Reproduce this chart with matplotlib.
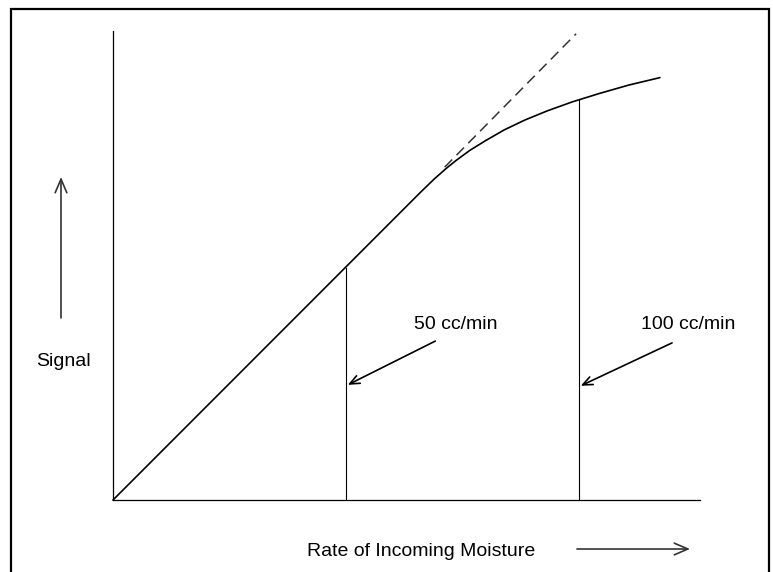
import matplotlib
matplotlib.use("Agg")
import matplotlib.pyplot as plt
from matplotlib.patches import Rectangle, FancyArrowPatch

plt.rcParams['font.family'] = ['Liberation Sans', 'DejaVu Sans']

# Data (x = rate in cc/min, y = signal in same relative units)
rate = [0, 62.0, 66.0, 69.0, 71.5, 73.6, 76.6, 80.0, 84.0, 88.4, 93.3, 98.6, 104.4, 110.7, 117.4]
signal = [0, 62.0, 66.0, 68.9, 71.1, 72.8, 75.0, 77.1, 79.4, 81.5, 83.5, 85.4, 87.2, 89.0, 90.6]
ideal_rate = [71.2, 99.4]
ideal_signal = [71.4, 100.0]
marker_rate = [50, 100]
marker_top = [49.8, 86.1]
marker_labels = ["50 cc/min", "100 cc/min"]
label_pos = [(73.6, 37.6), (123.4, 37.6)]
arrow_tail = [(69.2, 34.1), (120.0, 33.7)]
arrow_head_y = [24.7, 24.5]

x_max = 126.0
y_max = 100.6

fig = plt.figure(figsize=(7.73, 5.72), dpi=100)
ax = fig.add_axes([113 / 773, 72 / 572, 587 / 773, 469 / 572])
ax.set_xlim(0, x_max)
ax.set_ylim(0, y_max)
for s in ['top', 'right']:
    ax.spines[s].set_visible(False)
for s in ['left', 'bottom']:
    ax.spines[s].set_linewidth(0.9)
    ax.spines[s].set_color('black')
ax.set_xticks([])
ax.set_yticks([])

ax.plot(rate, signal, color='black', lw=1.2, clip_on=False,
        solid_capstyle='round', solid_joinstyle='round', antialiased=True)
ax.plot(ideal_rate, ideal_signal, color='#333333', lw=1.1, dashes=(7, 4), clip_on=False)

for xr, top in zip(marker_rate, marker_top):
    ax.plot([xr, xr], [0, top], color='black', lw=0.8)

for lab, (lx, ly), (tx, ty), xr, hy in zip(marker_labels, label_pos, arrow_tail,
                                           marker_rate, arrow_head_y):
    ax.text(lx, ly, lab, ha='center', va='center', fontsize=14)
    ax.annotate('', xy=(xr + 0.4, hy), xytext=(tx, ty),
                arrowprops=dict(arrowstyle='->,head_length=0.7,head_width=0.3',
                                color='black', lw=1.2, shrinkA=0, shrinkB=0))


def fx(px):
    return px / 773


def fy(py):
    return 1 - py / 572


fig.text(fx(63), fy(361), "Signal", ha='center', va='center', fontsize=14)
fig.text(fx(421), fy(551), "Rate of Incoming Moisture", ha='center', va='center', fontsize=14)

for start, end in [((61, 318), (61, 177)), ((577, 549), (690, 549))]:
    fig.patches.append(FancyArrowPatch(
        (fx(start[0]), fy(start[1])), (fx(end[0]), fy(end[1])),
        transform=fig.transFigure, mutation_scale=14,
        arrowstyle='->,head_length=0.7,head_width=0.3', color='#333333', lw=1.2,
        shrinkA=0, shrinkB=0))

fig.patches.append(Rectangle((fx(10.5), fy(590)), fx(758), 1 - fy(590) - (8.5 / 572),
                             transform=fig.transFigure, fill=False,
                             edgecolor='black', lw=1.6))

fig.savefig("out.png", dpi=100)
